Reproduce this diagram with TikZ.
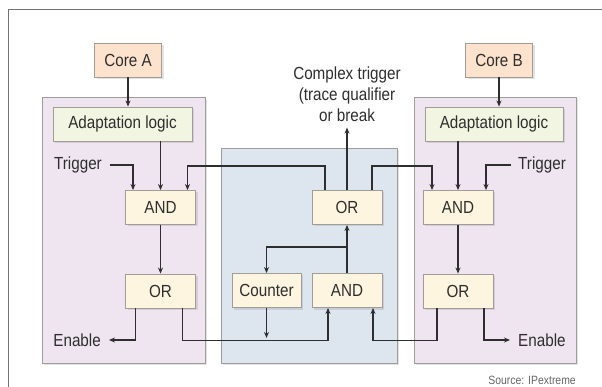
\documentclass[tikz,border=0pt]{standalone}
\usepackage{fontspec}
\setmainfont[FakeStretch=0.87]{Liberation Sans}
\usetikzlibrary{arrows.meta,shadows}

\definecolor{corefill}{HTML}{FDE3CE}
\definecolor{adaptfill}{HTML}{F2F5E1}
\definecolor{gatefill}{HTML}{FDF5DF}
\definecolor{purplepanel}{HTML}{EEE5F0}
\definecolor{bluepanel}{HTML}{DDE5EF}
\definecolor{edgegray}{HTML}{A09C98}
\definecolor{inkgray}{HTML}{2E2E2E}

\begin{document}
\begin{tikzpicture}[x=1pt,y=-1pt,
    every node/.style={text=inkgray, font=\fontsize{17.5}{21}\selectfont},
    shade/.style={drop shadow={shadow xshift=2pt, shadow yshift=-2pt, opacity=0.18, fill=black!60}},
    blk/.style={draw=edgegray, line width=0.9pt, inner sep=0pt, minimum height=34pt, shade},
    core/.style={blk, fill=corefill, minimum width=67pt},
    adapt/.style={blk, fill=adaptfill, minimum width=139pt},
    gate/.style={blk, fill=gatefill, minimum width=70pt},
    panel/.style={draw=edgegray, line width=0.9pt, shade},
    label/.style={inner ysep=3pt, inner xsep=8pt},
    wire/.style={draw=inkgray, line width=1.4pt},
    arr/.style={wire, -{Stealth[length=6pt,width=5pt]}}]

    \useasboundingbox (0,0) rectangle (602,387);
    \fill[white] (0,0) rectangle (602,387);
    \draw[line width=1pt, black!55] (8,400) -- (8,10) -- (610,10);

    % panels
    \filldraw[panel, fill=purplepanel] (42,97) rectangle (205,363);
    \filldraw[panel, fill=bluepanel] (221,148) rectangle (397,363);
    \filldraw[panel, fill=purplepanel] (414,97) rectangle (576,363);

    % core A side
    \node[core] (coreA) at (128,60) {Core A};
    \node[adapt] (adaptA) at (122.5,124) {Adaptation logic};
    \node[gate] (andA) at (160.5,207.5) {AND};
    \node[gate] (orA) at (160.5,291) {OR};
    \node[label, anchor=east] (trigA) at (110,165) {Trigger};
    \node[label, anchor=east] (enA) at (109,340) {Enable};

    % core B side
    \node[core] (coreB) at (499,60) {Core B};
    \node[adapt, minimum width=138pt] (adaptB) at (494,124) {Adaptation logic};
    \node[gate] (andB) at (458,207.5) {AND};
    \node[gate] (orB) at (458,291) {OR};
    \node[label, anchor=west, inner xsep=7pt] (trigB) at (511,165) {Trigger};
    \node[label, anchor=west] (enB) at (510,340) {Enable};

    % middle
    \node[gate] (orC) at (347,207.5) {OR};
    \node[gate, minimum width=69pt] (cnt) at (266.5,290.5) {Counter};
    \node[gate] (andC) at (347,290.5) {AND};
    \node[align=center, inner sep=6pt] (cplx) at (347,94) {Complex trigger\\(trace qualifier\\or break};
    \node[anchor=south east, inner sep=0pt, font=\fontsize{12}{14}\selectfont, text=black!60] (src) at (576,385) {Source: IPextreme};

    % left wires
    \draw[arr] (coreA.south) -- (coreA |- adaptA.north);
    \draw[arr] (adaptA.south -| andA) -- (andA.north);
    \draw[arr] (trigA.east) -| ([xshift=-27.5pt]andA.north);
    \draw[arr] (andA) -- (orA);
    \draw[arr] ([xshift=-25pt]orA.south) |- (enA.east);

    % right wires
    \draw[arr] (coreB.south) -- (coreB |- adaptB.north);
    \draw[arr] (adaptB.south -| andB) -- (andB.north);
    \draw[arr] (trigB.west) -| ([xshift=28pt]andB.north);
    \draw[arr] (andB) -- (orB);
    \draw[arr] ([xshift=26pt]orB.south) |- (enB.west);

    % middle wires
    \draw[arr] (orC.north) -- (cplx.south);
    \draw[arr] ([xshift=-22pt]orC.north) -- ++(0,-24) -| ([xshift=27pt]andA.north);
    \draw[arr] ([xshift=25pt]orC.north) -- ++(0,-24) -| ([xshift=-26pt]andB.north);
    \draw[arr] (andC.north) -- (orC.south);
    \draw[arr] ([yshift=26pt]andC.north) -| (cnt.north);
    \draw[arr] (cnt.south) -- ++(0,30);
    \draw[arr] ([xshift=22pt]orA.south) -- ++(0,32) -| ([xshift=-19pt]andC.south);
    \draw[arr] ([xshift=-21pt]orB.south) -- ++(0,32) -| ([xshift=26pt]andC.south);

\end{tikzpicture}
\end{document}
